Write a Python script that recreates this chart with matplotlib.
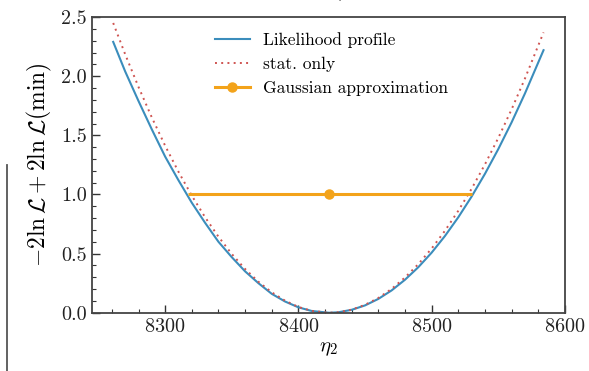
import matplotlib
matplotlib.use("Agg")
import matplotlib.pyplot as plt
from matplotlib.lines import Line2D
from matplotlib.ticker import MultipleLocator, FormatStrFormatter

plt.rcParams["font.family"] = "serif"
plt.rcParams["font.serif"] = ["cmr10", "DejaVu Serif"]
plt.rcParams["mathtext.fontset"] = "cm"
plt.rcParams["axes.formatter.use_mathtext"] = True

# Profile likelihood scan of eta_2
eta_profile = [8261, 8270, 8280, 8290, 8300, 8310, 8320, 8330, 8340, 8350,
               8360, 8370, 8380, 8390, 8400, 8410, 8423, 8430, 8440, 8450,
               8460, 8470, 8480, 8490, 8500, 8510, 8520, 8530, 8540, 8550,
               8560, 8570, 8584]
dnll_profile = [2.29, 2.04, 1.79, 1.55, 1.32, 1.12, 0.93, 0.76, 0.60, 0.47,
                0.35, 0.25, 0.16, 0.095, 0.046, 0.015, 0.0, 0.004, 0.025, 0.062,
                0.117, 0.189, 0.279, 0.385, 0.508, 0.649, 0.807, 0.982, 1.174, 1.383,
                1.609, 1.853, 2.22]

# Statistical-only scan
eta_stat = [8261, 8270, 8280, 8290, 8300, 8310, 8320, 8330, 8340, 8350,
            8360, 8370, 8380, 8390, 8400, 8410, 8423, 8430, 8440, 8450,
            8460, 8470, 8480, 8490, 8500, 8510, 8520, 8530, 8540, 8550,
            8560, 8570, 8584]
dnll_stat = [2.45, 2.185, 1.909, 1.651, 1.412, 1.192, 0.990, 0.807, 0.643, 0.497,
             0.370, 0.262, 0.173, 0.102, 0.049, 0.016, 0.0, 0.0045, 0.026, 0.067,
             0.125, 0.202, 0.298, 0.411, 0.543, 0.693, 0.862, 1.048, 1.254, 1.477,
             1.719, 1.979, 2.37]

# Gaussian approximation: best fit and 1-sigma interval
eta_best = 8423
err_low = 106
err_high = 107
gauss_level = 1.0

c_blue = "#3b8dbc"
c_red = "#cf5451"
c_orange = "#f3a31a"

fig = plt.figure(figsize=(5.89, 3.71), dpi=100)
ax = fig.add_axes([0.156, 0.157, 0.803, 0.797])

h_prof, = ax.plot(eta_profile, dnll_profile, color=c_blue, lw=1.5)
h_stat, = ax.plot(eta_stat, dnll_stat, color=c_red, lw=1.4, ls=(0, (1, 2.2)))
ax.errorbar([eta_best], [gauss_level], xerr=[[err_low], [err_high]], fmt="o",
            color=c_orange, ms=6.5, elinewidth=2.2, capsize=0)
h_gauss = Line2D([], [], color=c_orange, lw=2.2, marker="o", ms=6.5)

ax.set_xlim(8245, 8600)
ax.set_ylim(0, 2.5)
ax.xaxis.set_major_locator(MultipleLocator(100))
ax.xaxis.set_minor_locator(MultipleLocator(20))
ax.yaxis.set_major_locator(MultipleLocator(0.5))
ax.yaxis.set_minor_locator(MultipleLocator(0.1))
ax.yaxis.set_major_formatter(FormatStrFormatter("%.1f"))
ax.tick_params(which="both", direction="in", colors="#333333", labelcolor="#222222",
               labelsize=14.5)
ax.tick_params(which="major", length=6, width=1.0)
ax.tick_params(which="minor", length=3, width=0.8)
for s in ax.spines.values():
    s.set_color("#444444")
    s.set_linewidth(1.3)

ax.set_xlabel(r"$\eta_2$", fontsize=15, labelpad=3)
ax.set_ylabel(r"$-2\ln\mathcal{L}+2\ln\mathcal{L}(\mathrm{min})$", fontsize=17, labelpad=5)

ax.legend([h_prof, h_stat, h_gauss],
          ["Likelihood profile", "stat. only", "Gaussian approximation"],
          loc="upper center", bbox_to_anchor=(0.507, 1.0), frameon=False, fontsize=12.5,
          handlelength=2.0, handletextpad=0.8, labelspacing=0.52, borderaxespad=0.45)

# remnants of neighbouring panel and title
fig.add_artist(Line2D([0.012, 0.012], [0.0, 0.555], transform=fig.transFigure,
                      color="#555555", lw=1.3))
fig.text(0.58, 1 - 3 / 371, r"$\eta_2$", fontsize=15, ha="center", va="bottom",
         color="#222222")

fig.savefig("out.png", dpi=100)
